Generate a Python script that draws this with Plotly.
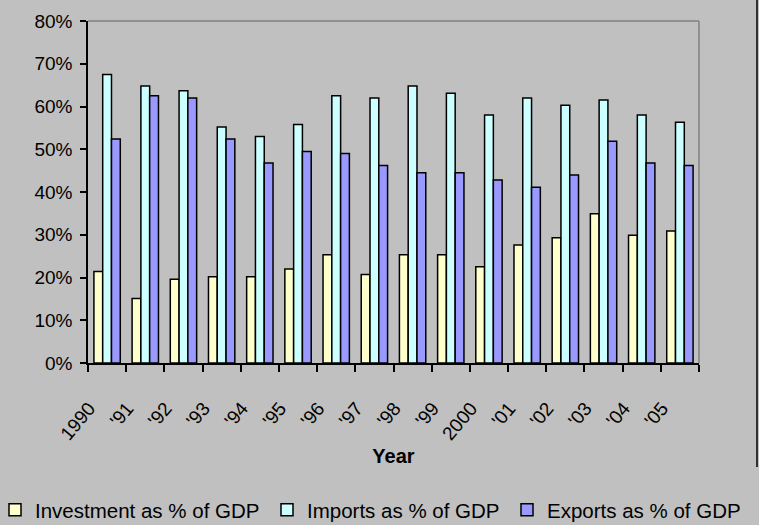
import plotly.graph_objects as go

years = ["1990", "'91", "'92", "'93", "'94", "'95", "'96", "'97", "'98", "'99",
         "2000", "'01", "'02", "'03", "'04", "'05"]
investment = [21.4, 15.1, 19.6, 20.2, 20.2, 22.0, 25.3, 20.7, 25.3, 25.3,
              22.5, 27.6, 29.3, 34.9, 29.9, 30.9]
imports = [67.5, 64.8, 63.7, 55.2, 53.0, 55.8, 62.5, 62.0, 64.8, 63.1,
           58.0, 62.0, 60.3, 61.5, 58.0, 56.3]
exports = [52.4, 62.5, 62.0, 52.4, 46.8, 49.5, 49.0, 46.2, 44.5, 44.5,
           42.8, 41.1, 44.0, 51.9, 46.8, 46.2]

series_names = ["Investment as % of GDP", "Imports as % of GDP", "Exports as % of GDP"]
series_colors = ["#FFFFCC", "#CCFFFF", "#9999FF"]
legend_ids = ["legend", "legend2", "legend3"]
legend_text_x = [35, 307, 547]

FONT = "Liberation Sans, Arial, sans-serif"

ML, MR, MT, MB = 88, 60, 21, 162
W, H = 759, 525
pw = W - ML - MR
ph = H - MT - MB

fig = go.Figure()
for name, vals, col, lg in zip(series_names, [investment, imports, exports], series_colors, legend_ids):
    fig.add_trace(go.Bar(
        x=years, y=[v / 100 for v in vals], name=name, legend=lg,
        marker=dict(color=col, line=dict(color="#000000", width=1.5)),
    ))

legend_common = dict(orientation="h", xref="paper", yref="container",
                     xanchor="left", yanchor="middle", y=1 - 510 / H,
                     font=dict(size=20.5, family=FONT, color="#000000"),
                     bgcolor="rgba(0,0,0,0)", borderwidth=0, itemwidth=30)

layout_legends = {}
for lg, tx in zip(legend_ids, legend_text_x):
    layout_legends[lg] = dict(legend_common, x=(tx - 40 - ML) / pw)

fig.update_layout(
    width=W, height=H,
    margin=dict(l=ML, r=MR, t=MT, b=MB, autoexpand=False),
    paper_bgcolor="#C0C0C0", plot_bgcolor="#C0C0C0",
    barmode="group", bargap=0.31, bargroupgap=0,
    font=dict(family=FONT, color="#000000", size=19),
    showlegend=True,
    **layout_legends,
    xaxis=dict(
        type="category", tickangle=-50, tickson="boundaries", automargin=False,
        ticks="outside", ticklen=7, tickcolor="#000000", tickwidth=1.5,
        ticklabelstandoff=25, ticklabelshift=-18,
        showline=True, linecolor="#000000", linewidth=1.5,
        showgrid=False, tickfont=dict(size=19, family=FONT, color="#000000"),
        title=dict(text="<b>Year</b>", font=dict(size=20, family=FONT, color="#000000"), standoff=6),
    ),
    yaxis=dict(
        range=[0, 0.8], dtick=0.1, tickformat=".0%", automargin=False,
        ticks="outside", ticklen=6, tickcolor="#000000", tickwidth=1.5,
        ticklabelstandoff=4,
        showline=True, linecolor="#000000", linewidth=1.5,
        showgrid=False, zeroline=False, tickfont=dict(size=19, family=FONT, color="#000000"),
    ),
    shapes=[
        dict(type="line", xref="paper", yref="paper", x0=0, x1=1, y0=1, y1=1,
             line=dict(color="#808080", width=1.5)),
        dict(type="line", xref="paper", yref="paper", x0=1, x1=1, y0=0, y1=1,
             line=dict(color="#808080", width=1.5)),
        dict(type="line", xref="paper", yref="paper",
             x0=(757 - ML) / pw, x1=(757 - ML) / pw, y0=1 + MT / ph,
             y1=1 - (467 - MT) / ph,
             line=dict(color="#000000", width=1.5)),
    ],
)

fig.write_html("out.html", config={"displayModeBar": False},
               post_script="document.body.style.margin='0';")
